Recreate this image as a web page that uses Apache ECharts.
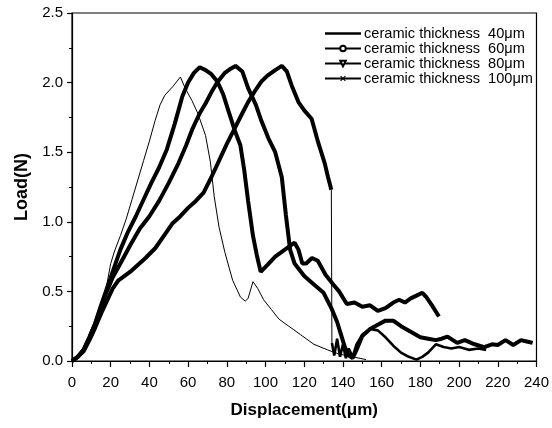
<!DOCTYPE html>
<html><head><meta charset="utf-8">
<script src="https://cdn.jsdelivr.net/npm/echarts@6/dist/echarts.min.js"></script>
<style>html,body{margin:0;padding:0;background:#fff}#c{width:552px;height:428px}</style>
</head><body><div id="c"></div>
<script>
// ---- data ----
const seriesNames = ['ceramic thickness  40\u03bcm', 'ceramic thickness  60\u03bcm', 'ceramic thickness  80\u03bcm', 'ceramic thickness  100\u03bcm'];
const xAxisRange = [0, 240, 20];   // min, max, step
const yAxisRange = [0, 2.5, 0.5];

const x40 = [0,3,6,9,12,15,18,20,22,25,28,31,34,37,40,43,45.5,48,52,56,58.5,62,65,69,71.5,73.5,76,79,83,87,89.5,91,93.5,96,99,103,107,112,118,125,132,138,145,152];
const y40 = [0,0.03,0.08,0.17,0.27,0.40,0.55,0.70,0.79,0.90,1.02,1.16,1.30,1.44,1.58,1.73,1.84,1.91,1.97,2.04,1.96,1.87,1.78,1.62,1.43,1.18,0.96,0.78,0.58,0.46,0.43,0.45,0.57,0.52,0.44,0.37,0.30,0.25,0.19,0.12,0.08,0.05,0.03,0.01];

const x60 = [0,3,6,9,12,15,18,21,25,29,33,37,41,45,49,53,57,60,63,66,69,72,75,78,81,84,87,89,91,93.5,95.5,97.5,101,105,110,115,117,119,121,124,127,131,135,138,142,146,150,154,158,162,166,169,172,175,178,181,183,186,189.6];
const y60 = [0,0.03,0.08,0.17,0.27,0.40,0.52,0.64,0.80,0.93,1.04,1.16,1.28,1.39,1.52,1.70,1.90,2.00,2.07,2.11,2.09,2.06,2.01,1.92,1.79,1.66,1.55,1.37,1.15,0.90,0.76,0.64,0.69,0.75,0.80,0.85,0.80,0.70,0.70,0.74,0.72,0.62,0.55,0.50,0.41,0.42,0.39,0.40,0.36,0.38,0.42,0.44,0.42,0.45,0.47,0.49,0.46,0.40,0.32];

const x80 = [0,3,6,9,12,15,18,21,25,30,35,40,45,50,55,59,62,66,69,72,75,79,82,84.5,88,91,95,98,101.5,105,108.4,110.5,112.7,115,120,125,130,134,137,139,141,143,145,147,150,154,158,162,166,170,175,180,184,188,191,194,199,203,208,213,217,220,224,228,232,235,238];
const y80 = [0,0.03,0.08,0.17,0.27,0.39,0.50,0.60,0.70,0.83,0.95,1.04,1.15,1.28,1.42,1.55,1.66,1.78,1.85,1.93,2.00,2.07,2.10,2.12,2.08,1.96,1.84,1.72,1.60,1.50,1.32,1.05,0.80,0.70,0.61,0.55,0.49,0.38,0.28,0.19,0.10,0.04,0.02,0.08,0.18,0.23,0.26,0.29,0.29,0.25,0.21,0.17,0.16,0.15,0.16,0.175,0.13,0.15,0.12,0.10,0.12,0.115,0.15,0.115,0.15,0.14,0.13];

const x100 = [0,3,6,9,12,15,18,21,24,27,30,34,38,43,48,52,56,60,64,68,72,76,80,84,88,91,95,98,101,105,108.4,111,113.5,117,120,123.8,127.2,130.6,132.3,134];
const y100 = [0,0.03,0.07,0.15,0.24,0.34,0.43,0.52,0.58,0.61,0.64,0.69,0.74,0.81,0.91,0.99,1.04,1.10,1.15,1.21,1.32,1.44,1.56,1.67,1.78,1.86,1.95,2.01,2.05,2.09,2.12,2.08,1.98,1.86,1.80,1.74,1.57,1.42,1.32,1.23];
const x100drop = [134,134.3];
const y100drop = [1.23,0.13];
const x100tail = [134.3,135.5,137,138.5,140,141.5,143,145,147,150,154,158,162,166,170,174,178,181,184,188,192,196,200,205,210,214];
const y100tail = [0.13,0.04,0.16,0.03,0.12,0.02,0.09,0.03,0.12,0.19,0.23,0.22,0.17,0.11,0.06,0.03,0.01,0.03,0.06,0.12,0.10,0.09,0.10,0.08,0.09,0.08];

const pair = (xs, ys) => xs.map((x, i) => [x, ys[i]]);
const xMark = 'path://M0,1.5L1.5,0L5,3.5L8.5,0L10,1.5L6.5,5L10,8.5L8.5,10L5,6.5L1.5,10L0,8.5L3.5,5Z';
const FONT = 'Liberation Sans, Arial, sans-serif';

const chart = echarts.init(document.getElementById('c'), null, {renderer: 'canvas'});
const baseLine = (name, data, width, symbol, extra) => Object.assign({
  type: 'line', name, data, showSymbol: false, symbol, symbolSize: 6,
  lineStyle: {color: '#000', width}, itemStyle: {color: '#000', borderColor: '#000'},
  emphasis: {disabled: true}, silent: true, z: 2
}, extra || {});

chart.setOption({
  animation: false,
  backgroundColor: '#fff',
  grid: {left: 72, right: 13, top: 13, bottom: 67, show: true, borderColor: '#000', borderWidth: 1.2},
  legend: {
    data: [
      {name: seriesNames[0], icon: 'path://M0,0H36V2.4H0Z'},
      {name: seriesNames[1]},
      {name: seriesNames[2]},
      {name: seriesNames[3]}
    ],
    orient: 'vertical', left: 319, top: 21,
    itemWidth: 36, itemHeight: 7, itemGap: 0, selectedMode: false,
    textStyle: {fontFamily: FONT, fontSize: 14.6, color: '#000', lineHeight: 15, padding: [0, 0, 0, -2]},
    lineStyle: {width: 2}
  },
  xAxis: {
    type: 'value', min: xAxisRange[0], max: xAxisRange[1], interval: xAxisRange[2],
    axisLine: {lineStyle: {color: '#000', width: 1.2}},
    axisTick: {length: 6, lineStyle: {color: '#000', width: 1.2}},
    minorTick: {show: true, splitNumber: 2, length: 3, lineStyle: {color: '#000', width: 1}},
    splitLine: {show: false},
    axisLabel: {fontFamily: FONT, fontSize: 15, color: '#000', margin: 14},
    name: 'Displacement(\u03bcm)', nameLocation: 'middle', nameGap: 41,
    nameTextStyle: {fontFamily: FONT, fontSize: 17, fontWeight: 'bold', color: '#000'}
  },
  yAxis: {
    type: 'value', min: yAxisRange[0], max: yAxisRange[1], interval: yAxisRange[2],
    axisLine: {show: true, lineStyle: {color: '#000', width: 1.2}},
    axisTick: {show: true, length: 5, lineStyle: {color: '#000', width: 1.2}},
    minorTick: {show: true, splitNumber: 2, length: 3, lineStyle: {color: '#000', width: 1}},
    splitLine: {show: false},
    axisLabel: {fontFamily: FONT, fontSize: 15, color: '#000', margin: 9, formatter: v => v.toFixed(1)},
    name: 'Load(N)', nameLocation: 'middle', nameGap: 31, nameRotate: 90,
    nameTextStyle: {fontFamily: FONT, fontSize: 18, fontWeight: 'bold', color: '#000'}
  },
  series: [
    baseLine(seriesNames[0], pair(x40, y40), 1, 'none'),
    baseLine(seriesNames[1], pair(x60, y60), 4, 'emptyCircle'),
    baseLine(seriesNames[2], pair(x80, y80), 4, 'emptyTriangle', {symbolRotate: 180}),
    baseLine(seriesNames[3], pair(x100, y100), 4, xMark),
    baseLine('drop100', pair(x100drop, y100drop), 1, 'none'),
    baseLine('tail100', pair(x100tail, y100tail), 2.6, 'none')
  ]
});
</script>
</body></html>
